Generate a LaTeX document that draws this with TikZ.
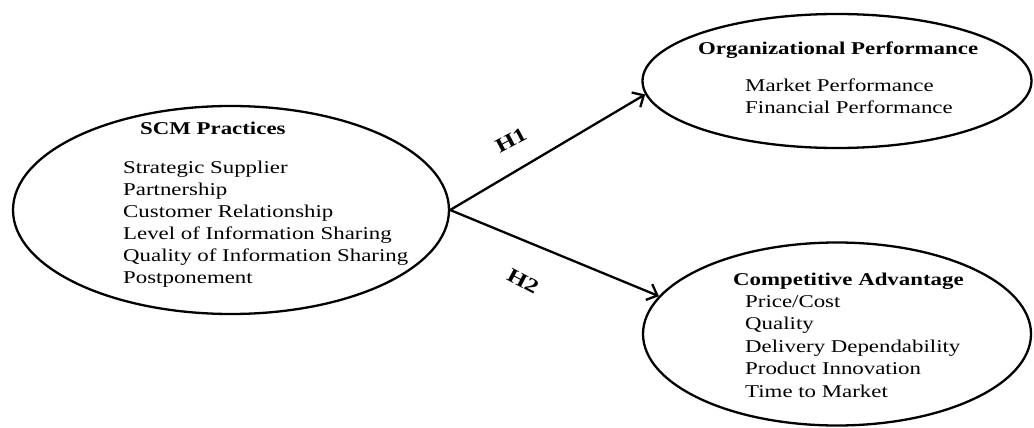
\documentclass[tikz,border=0pt]{standalone}
\usepackage{fontspec}
\setmainfont{Liberation Serif}[FakeStretch=1.27]
\usepackage{tikz}
\usetikzlibrary{arrows.meta, positioning, shapes.geometric}

\begin{document}
\begin{tikzpicture}[x=1pt, y=-1pt,
  construct/.style={draw, ellipse, line width=2.3pt, inner sep=0pt},
  head/.style={font=\fontsize{18}{22}\selectfont\bfseries, anchor=base west, inner sep=0pt},
  item/.style={font=\fontsize{18}{22}\selectfont, anchor=base west, inner sep=0pt},
  hyp/.style={-{Straight Barb[length=9pt, width=17pt]}, line width=2.3pt},
  hlabel/.style={font=\fontsize{20}{24}\selectfont\bfseries, inner sep=0pt}]
  \useasboundingbox (0,0) rectangle (1034,428);
  % the three constructs
  \node[construct, minimum width=436pt, minimum height=208pt] (scm) at (231,210) {};
  \node[construct, minimum width=389pt, minimum height=134pt] (org) at (837,81) {};
  \node[construct, minimum width=388pt, minimum height=183pt] (comp) at (837,334) {};
  % SCM practices
  \node[head] (scmhead) at (140,135) {SCM Practices};
  \foreach \t [count=\i] in {Strategic Supplier, Partnership, Customer Relationship,
      Level of Information Sharing, Quality of Information Sharing, Postponement}
    \node[item] (scm\i) at (123,{173+22*(\i-1)}) {\t};
  % organizational performance
  \node[head] (orghead) at (698,55) {Organizational Performance};
  \foreach \t [count=\i] in {Market Performance, Financial Performance}
    \node[item] (org\i) at (745,{92+21.5*(\i-1)}) {\t};
  % competitive advantage
  \node[head] (comphead) at (733,285) {Competitive Advantage};
  \foreach \t [count=\i] in {Price/Cost, Quality, Delivery Dependability,
      Product Innovation, Time to Market}
    \node[item] (comp\i) at (745,{307+22.5*(\i-1)}) {\t};
  % hypotheses
  \draw[hyp] (scm.east) -- (org.184);
  \draw[hyp] (scm.east) -- (comp.168);
  \node[hlabel, rotate=28] (h1) at (511,140) {H1};
  \node[hlabel, rotate=-28] (h2) at (523,281) {H2};
\end{tikzpicture}
\end{document}
